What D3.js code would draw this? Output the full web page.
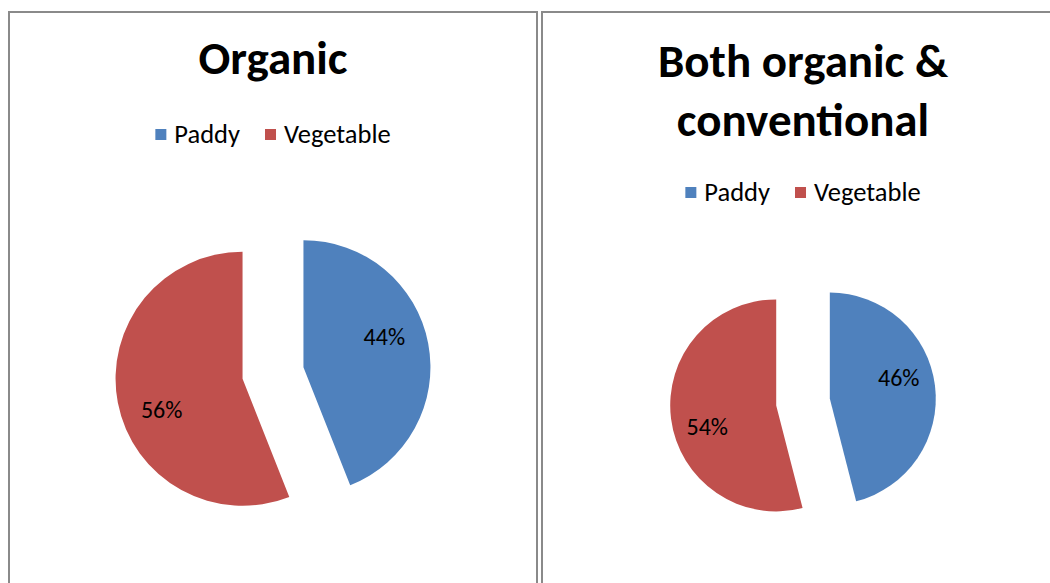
<!DOCTYPE html>
<html>
<head>
<meta charset="utf-8">
<script src="https://cdn.jsdelivr.net/npm/d3@7"></script>
<style>
  body { margin: 0; background: #fff; }
  text { font-family: Carlito, Calibri, Lato, "Open Sans", sans-serif; fill: #000; }
</style>
</head>
<body>
<svg id="chart" width="1050" height="583"></svg>
<script>
const categories = ['Paddy', 'Vegetable']
const colors = ['#4F81BD', '#C0504D']
const organicValues = [44, 56]
const bothValues = [46, 54]
const organicTitle = ['Organic']
const bothTitle = ['Both organic &', 'conventional']

const svg = d3.select('#chart')
const color = d3.scaleOrdinal().domain(categories).range(colors)

function piePanel(opts) {
    const g = svg.append('g').attr('transform', `translate(${opts.x},${opts.y})`)

    // panel frame (bottom runs off the page)
    g.append('rect')
        .attr('x', 0).attr('y', 0)
        .attr('width', opts.w).attr('height', 640)
        .attr('fill', 'none')
        .attr('stroke', '#8a8a8a')
        .attr('stroke-width', 2)

    const cx = opts.w / 2

    g.append('g').selectAll('text')
        .data(opts.title)
        .enter().append('text')
        .attr('x', cx)
        .attr('y', (d, i) => opts.titleY + i * 59)
        .attr('text-anchor', 'middle')
        .attr('font-size', 47)
        .attr('font-weight', 'bold')
        .text(d => d)

    // legend, centred under the title
    const lg = g.append('g').attr('transform', `translate(0,${opts.legendY})`)
    const items = lg.selectAll('g').data(categories).enter().append('g')
    items.append('rect')
        .attr('y', -14).attr('width', 11).attr('height', 11)
        .attr('fill', d => color(d))
    items.append('text')
        .attr('x', 19).attr('y', 0)
        .attr('font-size', 26.5)
        .text(d => d)
    let off = 0
    const widths = []
    items.each(function() { widths.push(this.getBBox().width) })
    const total = d3.sum(widths) + 25 * (widths.length - 1)
    items.attr('transform', (d, i) => {
        const t = `translate(${cx - total / 2 + off},0)`
        off += widths[i] + 25
        return t
    })

    const pie = d3.pie().sort(null).value(d => d)
    const arcs = pie(opts.values)
    const arc = d3.arc().innerRadius(0).outerRadius(opts.r)
    const labelArc = d3.arc().innerRadius(opts.r * 0.68).outerRadius(opts.r * 0.68)

    const pg = g.append('g').attr('transform', `translate(${cx},${opts.pieY})`)
    const slice = pg.selectAll('g').data(arcs).enter().append('g')
        .attr('transform', d => {
            const a = (d.startAngle + d.endAngle) / 2
            return `translate(${Math.sin(a) * opts.explode},${-Math.cos(a) * opts.explode})`
        })
    slice.append('path')
        .attr('d', arc)
        .attr('fill', (d, i) => color(categories[i]))
    slice.append('text')
        .attr('transform', d => {
            const shifted = Object.assign({}, d, {
                startAngle: d.startAngle - 0.17, endAngle: d.endAngle - 0.17
            })
            return `translate(${labelArc.centroid(shifted)})`
        })
        .attr('text-anchor', 'middle')
        .attr('dy', '0.35em')
        .attr('font-size', 24)
        .text(d => d.data + '%')
}

piePanel({ x: 9, y: 12, w: 528, title: organicTitle, titleY: 62, legendY: 131,
    values: organicValues, pieY: 361, r: 127, explode: 31 })
piePanel({ x: 542, y: 12, w: 522, title: bothTitle, titleY: 65, legendY: 189,
    values: bothValues, pieY: 390, r: 106, explode: 27 })
</script>
</body>
</html>
